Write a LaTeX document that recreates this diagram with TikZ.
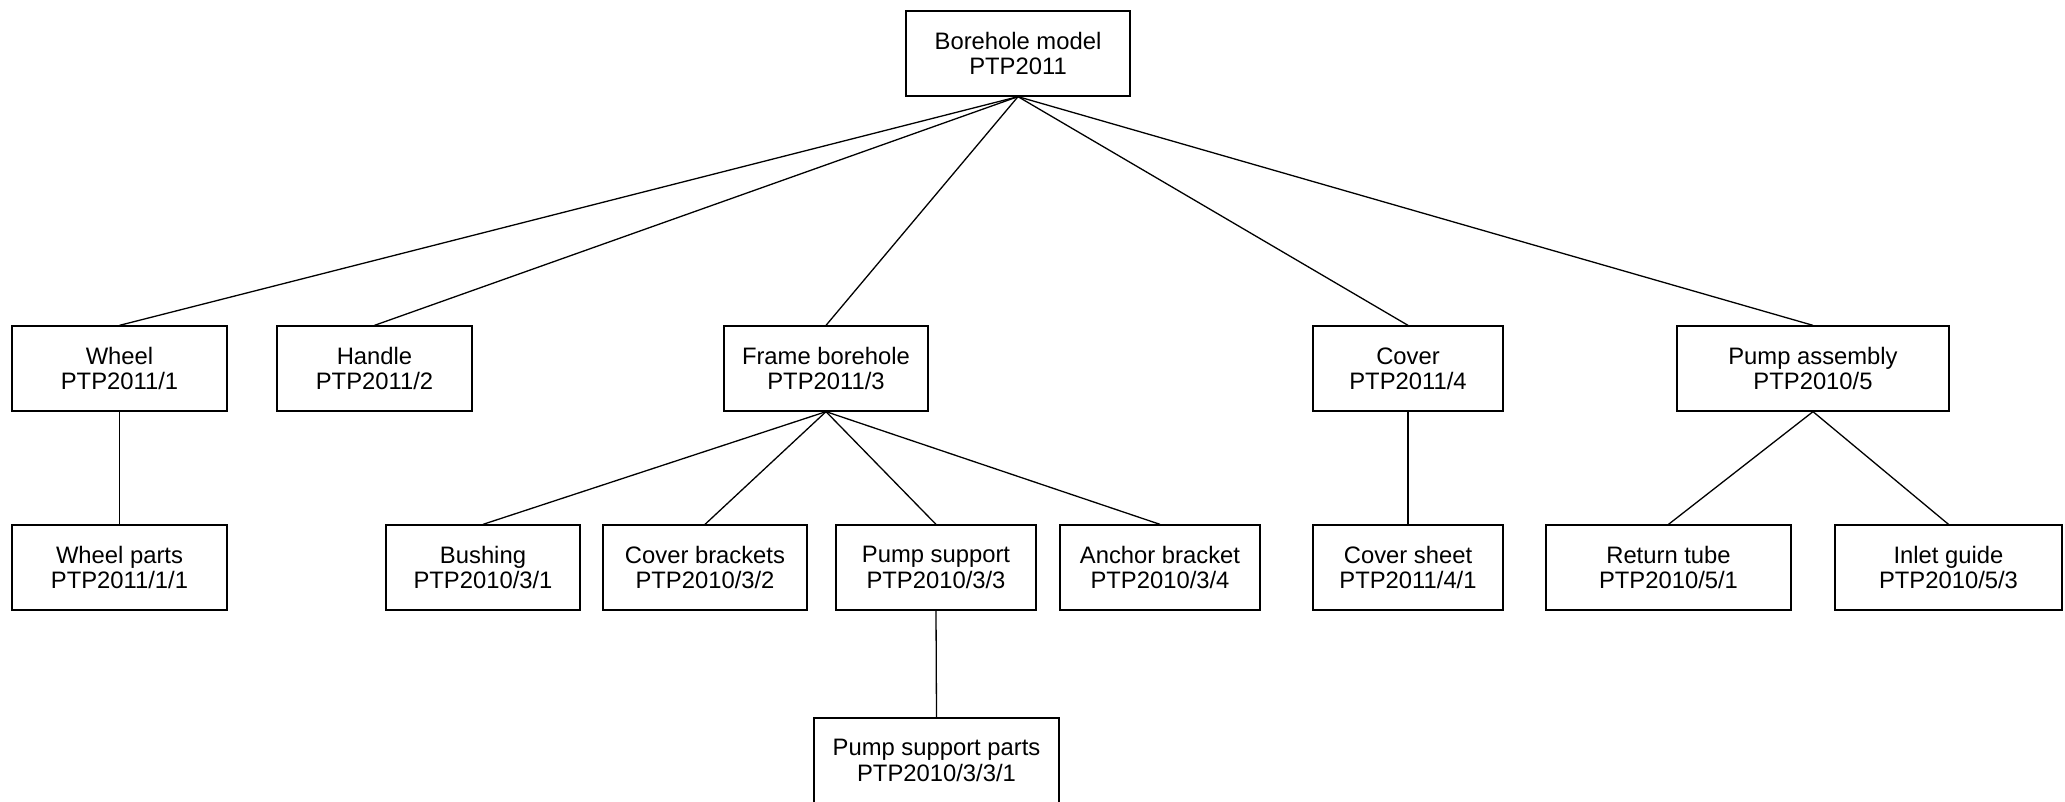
\documentclass[tikz,border=0pt]{standalone}
\usepackage{fontspec}
\setmainfont{Liberation Sans}
\begin{document}
\begin{tikzpicture}[x=1pt,y=-1pt,
  box/.style={draw,line width=1.3pt,inner sep=0pt,align=center,minimum height=85pt,
    font=\fontsize{23.8}{25.4}\selectfont},
  link/.style={line width=1.3pt}]
\useasboundingbox (0,0) rectangle (2065,801);
\node[box,minimum width=224pt] (root) at (1018,53.5) {Borehole model\\PTP2011};
\node[box,minimum width=215pt] (wheel) at (119.5,368.5) {Wheel\\PTP2011/1};
\node[box,minimum width=195pt] (handle) at (374.5,368.5) {Handle\\PTP2011/2};
\node[box,minimum width=204pt] (frame) at (826,368.5) {Frame borehole\\PTP2011/3};
\node[box,minimum width=190pt] (cover) at (1408,368.5) {Cover\\PTP2011/4};
\node[box,minimum width=272pt] (pump) at (1813,368.5) {Pump assembly\\PTP2010/5};
\node[box,minimum width=215pt] (wparts) at (119.5,567.5) {Wheel parts\\PTP2011/1/1};
\node[box,minimum width=194pt] (bushing) at (483,567.5) {Bushing\\PTP2010/3/1};
\node[box,minimum width=204pt] (cbrackets) at (705,567.5) {Cover brackets\\PTP2010/3/2};
\node[box,minimum width=200pt] (psupport) at (936,567.5) {Pump support\\PTP2010/3/3};
\node[box,minimum width=200pt] (anchor) at (1160,567.5) {Anchor bracket\\PTP2010/3/4};
\node[box,minimum width=190pt] (csheet) at (1408,567.5) {Cover sheet\\PTP2011/4/1};
\node[box,minimum width=245pt] (rtube) at (1668.5,567.5) {Return tube\\PTP2010/5/1};
\node[box,minimum width=227pt] (inlet) at (1948.5,567.5) {Inlet guide\\PTP2010/5/3};
\node[box,minimum width=245pt] (psparts) at (936.5,760.5) {Pump support parts\\PTP2010/3/3/1};
\draw[link] (root.south) -- (wheel.north);
\draw[link] (root.south) -- (handle.north);
\draw[link] (root.south) -- (frame.north);
\draw[link] (root.south) -- (cover.north);
\draw[link] (root.south) -- (pump.north);
\draw[link] (wheel.south) -- (wparts.north);
\draw[link] (frame.south) -- (bushing.north);
\draw[link] (frame.south) -- (cbrackets.north);
\draw[link] (frame.south) -- (psupport.north);
\draw[link] (frame.south) -- (anchor.north);
\draw[link] (cover.south) -- (csheet.north);
\draw[link] (pump.south) -- (rtube.north);
\draw[link] (pump.south) -- (inlet.north);
\draw[link] (psupport.south) -- (psparts.north);
\end{tikzpicture}
\end{document}
